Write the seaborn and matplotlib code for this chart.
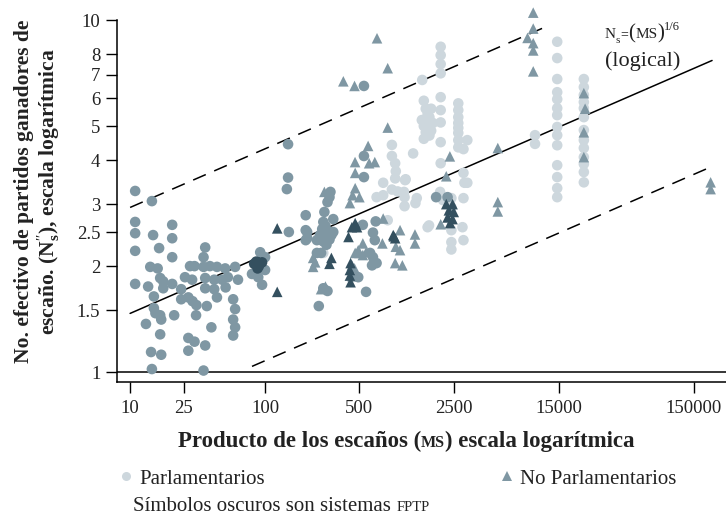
import numpy as np
import pandas as pd
import matplotlib
matplotlib.use("Agg")
import matplotlib.pyplot as plt
from matplotlib.lines import Line2D
import seaborn as sns

# ---- data: product of seats (MS) and effective number of seat-winning parties ----
ms_parl_claro = [
    2000, 2000, 2000, 2000, 2000, 2000, 2000, 2000, 2000, 1980, 2080,
    2700, 2700, 2700, 2700, 2700, 2700, 2700, 2700, 3150, 2950, 2950, 3000, 3150,
    2950, 2400, 2400, 2900, 2400, 2400, 2400, 2950,
    1500, 1550, 1600, 1450, 1500, 1600, 1650, 1700, 1550, 1650, 1750, 1500, 1600,
    1550, 1700, 1460,
    1250, 870, 870, 920, 930, 920, 1100, 750, 670, 750, 960, 1080, 1090, 1070,
    1080, 1330, 1300, 810, 1640, 1600, 270, 870,
    14600, 14600, 14600, 14600, 14600, 14600, 14600, 14600, 14600, 14600, 14600,
    14600, 14600, 14600,
    23000, 23000, 23000, 23000, 23000, 23000, 23000, 23000, 23000, 23000, 23000,
    23000, 23000,
    10000, 10000,
]
ns_parl_claro = [
    8.4, 7.95, 7.5, 7.06, 6.04, 5.55, 5.12, 4.5, 3.92, 3.25, 3.08,
    5.8, 5.55, 5.3, 5.1, 4.94, 4.78, 4.56, 4.35, 4.56, 4.3, 3.68, 3.45, 3.45,
    3.12, 3.12, 2.94, 2.58, 2.53, 2.34, 2.23, 2.37,
    5.9, 5.6, 5.4, 5.2, 5.0, 4.9, 5.3, 5.6, 4.8, 4.7, 5.1, 4.6, 5.0,
    5.2, 4.85, 6.76,
    4.18, 4.42, 4.11, 3.92, 3.72, 3.55, 3.53, 3.45, 3.14, 3.18, 3.26, 3.14, 3.51, 3.25,
    2.96, 3.12, 3.02, 2.7, 2.61, 2.58, 2.18, 3.3,
    8.68, 7.8, 6.8, 6.24, 5.96, 5.62, 5.37, 4.97, 4.71, 4.41, 3.87,
    3.58, 3.33, 3.14,
    6.8, 6.45, 6.13, 5.85, 5.62, 5.3, 4.87, 4.56, 4.33, 4.08, 3.9,
    3.7, 3.46,
    4.71, 4.45,
]

ms_parl_medio = [
    10.9, 14.5, 10.9, 10.9, 14.8, 20.5, 20.5, 16.4, 10.9, 20.5, 36, 35, 14.1, 16,
    27.8, 30, 35, 39, 44, 50.6, 60, 16.7, 17.6, 25.5, 28.8, 36, 42, 48, 53, 63,
    10.9, 13.6, 20.5, 17.6, 23.9, 36, 42, 51, 15, 23.9, 27, 29, 31, 37, 44, 58,
    60, 15, 15.4, 16.7, 17, 21.2, 30.8, 13.1, 58, 60, 40, 16.7, 58, 27, 30, 27,
    36, 14.3, 17, 14.5, 35, 92, 100, 80, 89, 100, 95,
    148, 148, 145, 150,
    305, 300, 290, 275, 200, 320, 270, 200, 265, 280, 300, 290, 310, 270, 300,
    285, 320, 255, 200, 242, 242, 205, 205, 250, 270, 290, 260,
    540, 540, 530, 660, 630, 650, 600, 630, 670, 620, 490, 560, 540, 1850, 2250,
]
ns_parl_medio = [
    3.27, 3.06, 2.67, 2.48, 2.45, 2.62, 2.40, 2.25, 2.21, 2.12, 2.26, 2.12, 1.99, 1.97,
    2.0, 2.0, 1.99, 2.0, 1.99, 1.97, 1.99, 1.85, 1.81, 1.86, 1.83, 1.85, 1.83, 1.83, 1.86, 1.83,
    1.78, 1.75, 1.78, 1.73, 1.72, 1.73, 1.72, 1.74, 1.64, 1.61, 1.63, 1.59, 1.55, 1.54, 1.63, 1.61,
    1.51, 1.52, 1.47, 1.45, 1.41, 1.45, 1.45, 1.37, 1.41, 1.34, 1.34, 1.28, 1.27, 1.25, 1.22, 1.15,
    1.19, 1.14, 1.12, 1.02, 1.01, 2.19, 2.12, 1.90, 1.86, 1.95, 1.77,
    4.44, 3.57, 3.31, 2.5,
    3.25, 3.14, 3.04, 2.85, 2.79, 2.72, 2.67, 2.53, 2.55, 2.6, 2.5, 2.42, 2.45, 2.35, 2.38,
    2.3, 2.5, 2.45, 2.37, 2.37, 2.18, 2.5, 2.4, 1.54, 1.73, 1.70, 2.18,
    4.11, 3.58, 2.62, 2.68, 2.49, 2.37, 2.18, 2.12, 2.04, 2.01, 1.86, 1.69, 6.5, 3.14, 3.14,
]

ms_parl_fptp = [83, 90, 95, 88, 86]
ns_parl_fptp = [2.03, 2.0, 2.05, 1.97, 2.06]

ms_nopar_medio = [
    275, 464, 580, 465, 650, 590, 465, 445, 500, 425, 227, 235, 227, 260, 280,
    530, 490, 560, 465, 500, 530, 1000, 1290, 1290, 930, 1000, 920, 1040, 440,
    460, 445, 750, 740, 810, 810, 380, 675, 460, 2340, 2200, 2000,
    5300, 5300, 5300, 9700, 9700, 8800, 9700, 9700, 9700,
    23000, 23500, 23000, 23000, 200000, 200000,
]
ns_nopar_medio = [
    3.25, 3.95, 4.39, 3.68, 3.95, 3.92, 3.33, 3.18, 3.14, 3.02, 2.11, 2.05, 1.99, 1.72, 1.75,
    2.32, 2.22, 2.19, 2.18, 2.18, 2.15, 2.53, 2.46, 2.32, 2.27, 2.22, 2.04, 2.01, 2.01,
    1.97, 1.87, 2.73, 2.32, 4.95, 7.3, 6.7, 8.88, 6.5, 4.1, 3.6, 2.63,
    4.33, 3.04, 2.86, 10.5, 9.46, 8.9, 8.6, 8.2, 7.15,
    6.2, 5.6, 4.8, 4.08, 3.46, 3.31,
]

ms_nopar_fptp = [123, 123, 310, 300, 465, 440, 480, 415, 430, 425, 425, 430,
                 900, 920, 890, 2200, 2450, 2300, 2500, 2250, 2450, 2350]
ns_nopar_fptp = [2.56, 1.69, 2.11, 2.03, 2.65, 2.58, 2.58, 2.42, 2.04, 1.95, 1.88, 1.80,
                 2.43, 2.40, 2.45, 3.0, 3.0, 2.88, 2.85, 2.75, 2.72, 2.65]

x_ticks = [10, 25, 100, 500, 2500, 15000, 150000]
y_ticks = [1, 1.5, 2, 2.5, 3, 4, 5, 6, 7, 8, 10]

# ---- assemble long table (draw order: light, medium, dark) ----
parts = [
    ("claro", "Parlamentarios", ms_parl_claro, ns_parl_claro),
    ("medio", "Parlamentarios", ms_parl_medio, ns_parl_medio),
    ("medio", "No Parlamentarios", ms_nopar_medio, ns_nopar_medio),
    ("oscuro", "Parlamentarios", ms_parl_fptp, ns_parl_fptp),
    ("oscuro", "No Parlamentarios", ms_nopar_fptp, ns_nopar_fptp),
]
df = pd.concat(
    [pd.DataFrame({"ms": m, "ns": n, "tono": t, "tipo": k}) for t, k, m, n in parts],
    ignore_index=True,
)

C_LIGHT, C_MED, C_DARK = "#cdd7dd", "#7f97a3", "#34505f"
palette = {"claro": C_LIGHT, "medio": C_MED, "oscuro": C_DARK}
markers = {"Parlamentarios": "o", "No Parlamentarios": "^"}

sns.set_theme(style="white")
plt.rcParams["font.family"] = ["Liberation Serif", "DejaVu Serif"]
plt.rcParams["mathtext.fontset"] = "custom"
plt.rcParams["mathtext.rm"] = "Liberation Serif"
plt.rcParams["mathtext.it"] = "Liberation Serif:italic"
plt.rcParams["mathtext.bf"] = "Liberation Serif:bold"
INK = "#222222"

fig = plt.figure(figsize=(7.26, 5.17), dpi=100)
ax = fig.add_axes([0.1612, 0.2611, 0.8388, 0.729])

sns.scatterplot(data=df, x="ms", y="ns", hue="tono", style="tipo",
                palette=palette, markers=markers, s=58, linewidth=0,
                legend=False, ax=ax, zorder=3)

ax.set_xscale("log")
ax.set_yscale("log")
ax.set_xlim(8.0, 260000)
ax.set_ylim(0.937, 11.03)

# reference lines: Ns = MS^(1/6), and factors of 2 above / below
xs = np.logspace(1, np.log10(205000), 200)
ax.plot(xs, xs ** (1 / 6), color="black", lw=1.1, zorder=2)
xu = np.logspace(1, np.log10(12000), 200)
ax.plot(xu, 2 * xu ** (1 / 6), color="black", lw=1.1, ls=(0, (9, 6)), zorder=2)
xl = np.logspace(np.log10(80), np.log10(200000), 200)
ax.plot(xl, 0.5 * xl ** (1 / 6), color="black", lw=1.1, ls=(0, (9, 6)), zorder=2)
ax.axhline(1, color="black", lw=1.1, zorder=2)

ax.set_xticks(x_ticks)
ax.set_xticklabels([str(v) for v in x_ticks])
ax.set_yticks(y_ticks)
ax.set_yticklabels([f"{v:g}" for v in y_ticks])
ax.minorticks_off()
ax.tick_params(axis="both", which="major", direction="out", length=8, width=1,
               color="black", labelsize=13.5, labelcolor=INK, bottom=True, left=True)
ax.tick_params(axis="y", pad=4)
ax.tick_params(axis="x", pad=5)

for s in ["top", "right"]:
    ax.spines[s].set_visible(False)
for s in ["left", "bottom"]:
    ax.spines[s].set_color("black")
    ax.spines[s].set_linewidth(1.1)
ax.spines["left"].set_bounds(0.937, 10)
ax.set_xlabel("")
ax.set_ylabel("")
ax.grid(False)

renderer = fig.canvas.get_renderer()


def place_runs(runs, x, y, ha="left", **common):
    """Lay out text runs of differing size side by side, in figure pixels."""
    texts = []
    for s, kw in runs:
        dy = kw.pop("dy", 0)
        t = fig.text(0, (y + dy) / fig.bbox.height, s, transform=fig.transFigure,
                     va="baseline", color=INK, **common, **kw)
        texts.append(t)
    widths = [t.get_window_extent(renderer).width for t in texts]
    start = x - (sum(widths) / 2 if ha == "center" else 0)
    for t, w in zip(texts, widths):
        t.set_x(start / fig.bbox.width)
        start += w
    return texts


H = fig.bbox.height
# x-axis title with small-capital MS
place_runs([("Producto de los escaños (", dict(fontsize=16.5)),
            ("MS", dict(fontsize=11.5)),
            (") escala logarítmica", dict(fontsize=16.5))],
           406, H - 447, ha="center", fontweight="bold")

# y-axis title
fig.text(0.052, 0.629, "No. efectivo de partidos ganadores de\n"
         r"escaño. ($\mathbf{N}^{\prime\prime}_{\mathbf{s}}$), escala logarítmica",
         rotation=90, ha="center", va="center", fontsize=15.5, fontweight="bold",
         color=INK, linespacing=1.1)

# curve label
place_runs([("N", dict(fontsize=11)),
            ("s", dict(fontsize=8, dy=-5)),
            ("=", dict(fontsize=10)),
            ("(", dict(fontsize=15)),
            ("MS", dict(fontsize=11)),
            (")", dict(fontsize=15)),
            ("1/6", dict(fontsize=9, dy=8))],
           605, H - 38)
fig.text(605 / fig.bbox.width, 1 - 66 / H, "(logical)", fontsize=16,
         va="baseline", color=INK)

# legend
leg_handles = [
    Line2D([], [], marker="o", ls="", color=C_LIGHT, markersize=6.5, markeredgewidth=0),
    Line2D([], [], marker="^", ls="", color=C_MED, markersize=6.5, markeredgewidth=0),
]
fig.legend(leg_handles, ["Parlamentarios", "No Parlamentarios"], ncol=2,
           loc="upper left", bbox_to_anchor=(0.165, 1 - 469 / H), frameon=False,
           fontsize=15, handlelength=0.6, handletextpad=0.35, columnspacing=11.3,
           borderpad=0, borderaxespad=0, labelcolor=INK)
place_runs([("Símbolos oscuros son sistemas ", dict(fontsize=15)),
            ("FPTP", dict(fontsize=10.5))],
           133, H - 511)

fig.savefig("out.png", dpi=100)
